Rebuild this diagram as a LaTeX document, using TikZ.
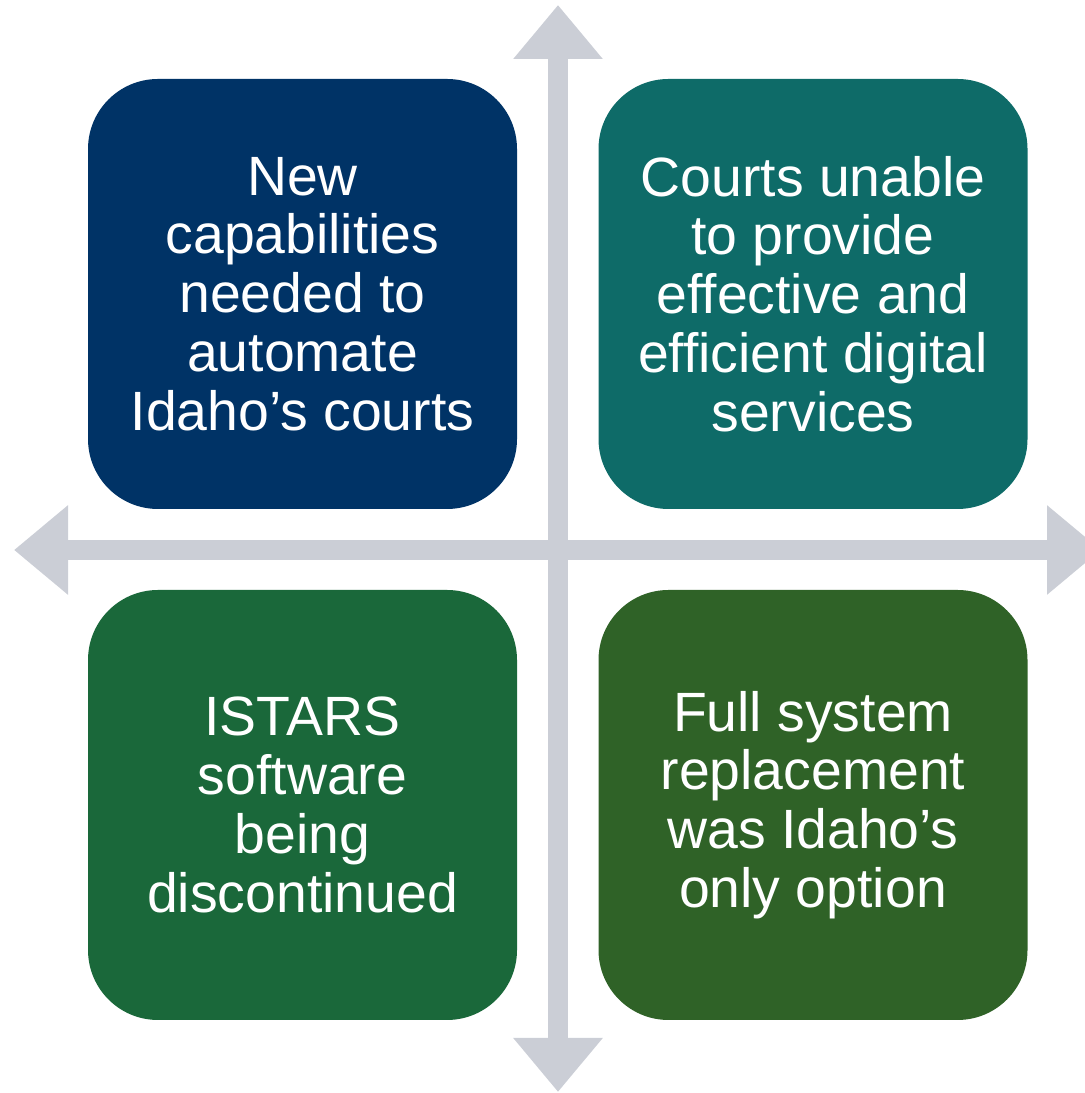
\documentclass[tikz,border=0pt]{standalone}
\usepackage{fontspec}
\setmainfont{Liberation Sans}
\usetikzlibrary{positioning, arrows.meta}
\definecolor{darknavy}{RGB}{0,51,102}
\definecolor{darkteal}{RGB}{14,107,104}
\definecolor{darkgreen}{RGB}{26,104,58}
\definecolor{olivegreen}{RGB}{47,98,39}
\definecolor{axisgray}{RGB}{203,206,214}

\begin{document}
\begin{tikzpicture}
    % Stile per i riquadri e per gli assi
    \tikzset{
        quad_box/.style={
            rounded corners=1.4cm, % Angoli arrotondati
            text=white,
            minimum width=8.58cm, % Larghezza del riquadro
            minimum height=8.6cm, % Altezza del riquadro
            align=center, % Allineamento centrale del testo
            font=\fontsize{31.5}{33.5}\selectfont, % Dimensione del font
            inner sep=0pt
        },
        axis_arrow/.style={
            draw=axisgray,
            line width=0.4cm, % Spessore dell'asse
            {Triangle[length=1.08cm, width=1.72cm]}-{Triangle[length=1.08cm, width=1.72cm]}
        }
    }

    \useasboundingbox (0,0) rectangle (21.68,21.86);

    % Estremi degli assi
    \coordinate (axis_top) at (11.16,21.76);
    \coordinate (axis_bottom) at (11.16,0.02);
    \coordinate (axis_left) at (0.28,10.86);
    \coordinate (axis_right) at (22.02,10.86);

    \draw[axis_arrow] (axis_bottom) -- (axis_top);
    \draw[axis_arrow] (axis_left) -- (axis_right);

    % Riquadri
    \node[quad_box, fill=darknavy] (box_tl) at (6.05,15.98) {New\\capabilities\\needed to\\automate\\Idaho’s courts};
    \node[quad_box, fill=darkteal] (box_tr) at (16.26,15.98) {Courts unable\\to provide\\effective and\\efficient digital\\services};
    \node[quad_box, fill=darkgreen] (box_bl) at (6.05,5.76) {ISTARS\\software\\being\\discontinued};
    \node[quad_box, fill=olivegreen] (box_br) at (16.26,5.76) {Full system\\replacement\\was Idaho’s\\only option};

\end{tikzpicture}
\end{document}
